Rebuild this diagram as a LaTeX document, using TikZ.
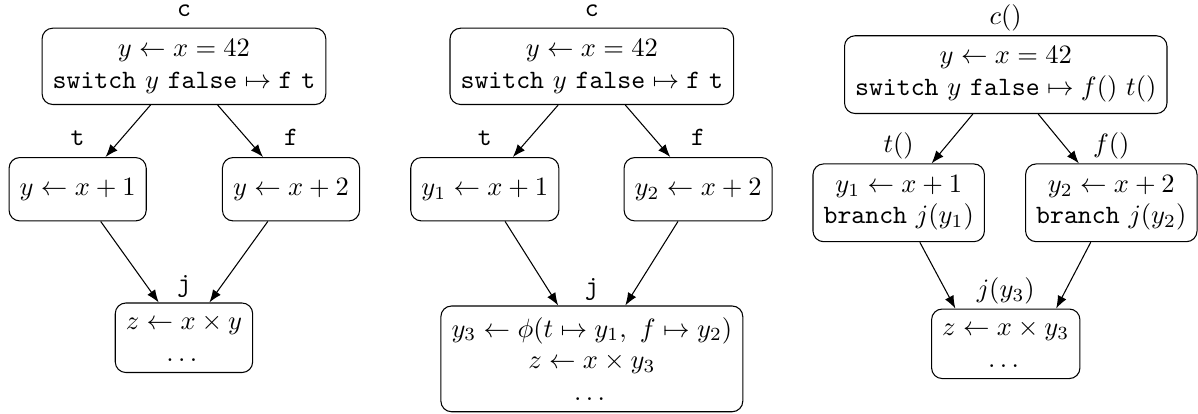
\documentclass[tikz,border=0pt]{standalone}
\usepackage{amsmath,amssymb}
\usetikzlibrary{arrows.meta,positioning}
\begin{document}
\begin{tikzpicture}[>=Latex,
 box/.style={draw,rounded corners=4pt,align=center,inner xsep=4pt,inner ysep=4.2pt,minimum height=8.4mm},
 tag/.style={inner sep=4pt,text depth=0pt},
 arr/.style={->,line width=.4pt}]
\useasboundingbox (0,0) rectangle (15.89,-5.49);
\node[box] (c1) at (2.44,-0.88) {$y \leftarrow x = 42$\\$\texttt{switch}\ y\ \texttt{false} \mapsto \texttt{f}\ \texttt{t}$};
\node[box] (t1) at (1.03,-2.51) {$y \leftarrow x + 1$};
\node[box] (f1) at (3.86,-2.51) {$y \leftarrow x + 2$};
\node[box] (j1) at (2.44,-4.48) {$z \leftarrow x \times y$\\$\dots$};
\node[tag,above=0pt of c1] (c1tag) {\texttt{c}};
\node[tag,above=0pt of t1] (t1tag) {\texttt{t}};
\node[tag,above=0pt of f1] (f1tag) {\texttt{f}};
\node[tag,above=0pt of j1] (j1tag) {\texttt{j}};
\draw[arr] (c1) -- (t1);
\draw[arr] (c1) -- (f1);
\draw[arr] (t1) -- (j1);
\draw[arr] (f1) -- (j1);
\node[box] (c2) at (7.85,-0.88) {$y \leftarrow x = 42$\\$\texttt{switch}\ y\ \texttt{false} \mapsto \texttt{f}\ \texttt{t}$};
\node[box] (t2) at (6.43,-2.51) {$y_1 \leftarrow x + 1$};
\node[box] (f2) at (9.26,-2.51) {$y_2 \leftarrow x + 2$};
\node[box] (j2) at (7.85,-4.76) {$y_3 \leftarrow \phi(t \mapsto y_1,\ f \mapsto y_2)$\\$z \leftarrow x \times y_3$\\$\dots$};
\node[tag,above=0pt of c2] (c2tag) {\texttt{c}};
\node[tag,above=0pt of t2] (t2tag) {\texttt{t}};
\node[tag,above=0pt of f2] (f2tag) {\texttt{f}};
\node[tag,above=0pt of j2] (j2tag) {\texttt{j}};
\draw[arr] (c2) -- (t2);
\draw[arr] (c2) -- (f2);
\draw[arr] (t2) -- (j2);
\draw[arr] (f2) -- (j2);
\node[box] (c3) at (13.34,-0.99) {$y \leftarrow x = 42$\\$\texttt{switch}\ y\ \texttt{false} \mapsto f()\ t()$};
\node[box] (t3) at (11.92,-2.69) {$y_1 \leftarrow x + 1$\\$\texttt{branch}\ j(y_1)$};
\node[box] (f3) at (14.74,-2.69) {$y_2 \leftarrow x + 2$\\$\texttt{branch}\ j(y_2)$};
\node[box] (j3) at (13.34,-4.56) {$z \leftarrow x \times y_3$\\$\dots$};
\node[tag,above=0pt of c3] (c3tag) {$c()$};
\node[tag,above=0pt of t3] (t3tag) {$t()$};
\node[tag,above=0pt of f3] (f3tag) {$f()$};
\node[tag,above=0pt of j3] (j3tag) {$j(y_3)$};
\draw[arr] (c3) -- (t3);
\draw[arr] (c3) -- (f3);
\draw[arr] (t3) -- (j3.145);
\draw[arr] (f3) -- (j3.35);
\end{tikzpicture}
\end{document}
